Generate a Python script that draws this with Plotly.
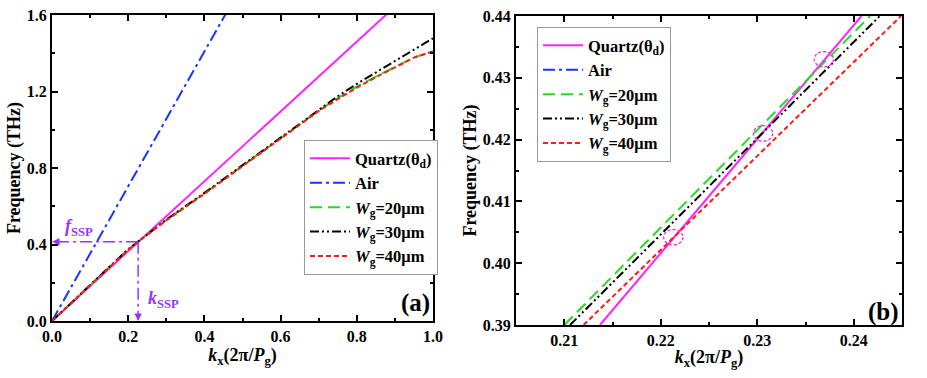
import plotly.graph_objects as go

# ---------------- data ----------------
# Panel (a)
k_quartz_a = [0.0, 0.88]
f_quartz_a = [0.0, 1.607]
k_air = [0.0, 0.46]
f_air = [0.0, 1.62]
k_ssp = [0, 0.05, 0.1, 0.15, 0.2, 0.226, 0.3, 0.4, 0.5, 0.6, 0.7, 0.75, 0.8, 0.85, 0.9, 0.95, 1.0]
f_wg20 = [0, 0.094, 0.188, 0.282, 0.374, 0.415, 0.528, 0.667, 0.812, 0.958, 1.100, 1.165, 1.225, 1.278, 1.330, 1.378, 1.410]
f_wg30 = [0, 0.095, 0.190, 0.284, 0.376, 0.415, 0.530, 0.670, 0.815, 0.962, 1.105, 1.175, 1.240, 1.300, 1.360, 1.420, 1.478]
f_wg40 = [0, 0.093, 0.187, 0.281, 0.372, 0.415, 0.526, 0.665, 0.810, 0.955, 1.098, 1.160, 1.220, 1.275, 1.327, 1.377, 1.410]
k_ssp_point = 0.226
f_ssp_point = 0.415

# Panel (b)
k_quartz_b = [0.2137, 0.2408]
f_quartz_b = [0.39, 0.44]
k_wg20_b = [0.2100, 0.2417]
k_wg30_b = [0.2106, 0.2427]
k_wg40_b = [0.2120, 0.2449]
f_b = [0.39, 0.44]
circle_k = [0.2213, 0.2306, 0.2369]
circle_f = [0.4042, 0.4210, 0.4330]

names = ["Quartz(θ<sub>d</sub>)", "Air", "<i>W</i><sub>g</sub>=20μm",
         "<i>W</i><sub>g</sub>=30μm", "<i>W</i><sub>g</sub>=40μm"]

# ---------------- styles ----------------
FONT = "Liberation Serif"
C_Q, C_AIR, C_20, C_30, C_40 = "#ff22ff", "#1a33ff", "#22dd22", "#000000", "#ff1a1a"
PURPLE = "#9933ff"
D_AIR = "12px,4px,3px,4px"
D_20 = "12px,6px"
D_30 = "9px,3px,2px,3px,2px,3px"
D_40 = "5px,3px"
LW = 2
W, H = 927, 378


def px(xp):
    return xp / W


def py(yp):
    return 1 - yp / H


fig = go.Figure()


def add_set(xa, ya, legend, kq, fq, k20, f20, k30, f30, k40, f40):
    fig.add_trace(go.Scatter(x=kq, y=fq, mode="lines", name=names[0], xaxis=xa, yaxis=ya, legend=legend,
                             line=dict(color=C_Q, width=LW)))
    fig.add_trace(go.Scatter(x=k_air, y=f_air, mode="lines", name=names[1], xaxis=xa, yaxis=ya, legend=legend,
                             line=dict(color=C_AIR, width=LW, dash=D_AIR)))
    fig.add_trace(go.Scatter(x=k20, y=f20, mode="lines", name=names[2], xaxis=xa, yaxis=ya, legend=legend,
                             line=dict(color=C_20, width=LW, dash=D_20)))
    fig.add_trace(go.Scatter(x=k30, y=f30, mode="lines", name=names[3], xaxis=xa, yaxis=ya, legend=legend,
                             line=dict(color=C_30, width=LW, dash=D_30)))
    fig.add_trace(go.Scatter(x=k40, y=f40, mode="lines", name=names[4], xaxis=xa, yaxis=ya, legend=legend,
                             line=dict(color=C_40, width=LW, dash=D_40)))


add_set("x", "y", "legend", k_quartz_a, f_quartz_a, k_ssp, f_wg20, k_ssp, f_wg30, k_ssp, f_wg40)
add_set("x2", "y2", "legend2", k_quartz_b, f_quartz_b, k_wg20_b, f_b, k_wg30_b, f_b, k_wg40_b, f_b)

# f_SSP / k_SSP guide lines
fig.add_trace(go.Scatter(x=[k_ssp_point, 0.004], y=[f_ssp_point, f_ssp_point], mode="lines", showlegend=False,
                         xaxis="x", yaxis="y", line=dict(color=PURPLE, width=1.5, dash=D_AIR)))
fig.add_trace(go.Scatter(x=[k_ssp_point, k_ssp_point], y=[f_ssp_point, 0.006], mode="lines", showlegend=False,
                         xaxis="x", yaxis="y", line=dict(color=PURPLE, width=1.5, dash=D_AIR)))
fig.add_annotation(x=0.0, y=f_ssp_point, ax=0.02, ay=f_ssp_point, xref="x", yref="y", axref="x", ayref="y",
                   text="", showarrow=True, arrowhead=2, arrowsize=1, arrowwidth=1.5, arrowcolor=PURPLE)
fig.add_annotation(x=k_ssp_point, y=0.0, ax=k_ssp_point, ay=0.04, xref="x", yref="y", axref="x", ayref="y",
                   text="", showarrow=True, arrowhead=2, arrowsize=1, arrowwidth=1.5, arrowcolor=PURPLE)
fig.add_annotation(x=0.028, y=f_ssp_point + 0.005, xref="x", yref="y", xanchor="left", yanchor="bottom",
                   text="<i>f</i><sub>SSP</sub>", showarrow=False,
                   font=dict(family=FONT, size=18, color=PURPLE, weight="bold"))
fig.add_annotation(x=k_ssp_point + 0.022, y=0.11, xref="x", yref="y", xanchor="left", yanchor="middle",
                   text="<i>k</i><sub>SSP</sub>", showarrow=False,
                   font=dict(family=FONT, size=18, color=PURPLE, weight="bold"))

# circles in panel (b)
for ck, cf in zip(circle_k, circle_f):
    fig.add_shape(type="circle", xref="x2", yref="y2", x0=ck - 0.001, x1=ck + 0.001,
                  y0=cf - 0.00125, y1=cf + 0.00125, line=dict(color=C_Q, width=1.3, dash="3px,2px"))

# panel labels
fig.add_annotation(x=0.953, y=0.059, xref="x domain", yref="y domain", xanchor="center", yanchor="middle",
                   text="(a)", showarrow=False, font=dict(family=FONT, size=25, color="black", weight="bold"))
fig.add_annotation(x=0.951, y=0.042, xref="x2 domain", yref="y2 domain", xanchor="center", yanchor="middle",
                   text="(b)", showarrow=False, font=dict(family=FONT, size=25, color="black", weight="bold"))

tickfont = dict(family=FONT, size=16, color="black", weight="bold")
titlefont = dict(family=FONT, size=18, color="black", weight="bold")
legfont = dict(family=FONT, size=16.5, color="black", weight="bold")
xtitle = "<i>k</i><sub>x</sub>(2π/<i>P</i><sub>g</sub>)"


def axis(domain, rng, dtick, minor_dt, fmt, title, standoff):
    return dict(domain=domain, range=rng, dtick=dtick, tick0=0, tickformat=fmt,
                showline=True, linewidth=2, linecolor="black", mirror="allticks",
                ticks="inside", ticklen=6, tickwidth=2, tickcolor="black",
                minor=dict(ticks="inside", ticklen=3, tickwidth=2, tickcolor="black", dtick=minor_dt, tick0=0),
                showgrid=False, zeroline=False, tickfont=tickfont, automargin=False,
                ticklabeloverflow="allow",
                title=dict(text=title, font=titlefont, standoff=standoff))


fig.update_layout(
    width=W, height=H,
    margin=dict(l=0, r=0, t=0, b=0),
    paper_bgcolor="white", plot_bgcolor="white",
    xaxis=dict(axis([px(52), px(433)], [0, 1.0], 0.2, 0.1, ".1f", xtitle, 2), anchor="y"),
    yaxis=dict(axis([py(321), py(15)], [0, 1.6], 0.4, 0.2, ".1f", "Frequency (THz)", 1), anchor="x"),
    xaxis2=dict(axis([px(516), px(902)], [0.205, 0.245], 0.01, 0.005, ".2f", xtitle, 2), anchor="y2"),
    yaxis2=dict(axis([py(325), py(16)], [0.39, 0.44], 0.01, 0.005, ".2f", "Frequency (THz)", 1), anchor="x2"),
    legend=dict(x=px(304), y=py(140), xanchor="left", yanchor="top", bgcolor="white",
                bordercolor="#999999", borderwidth=1, font=legfont, tracegroupgap=0, itemwidth=40),
    legend2=dict(x=px(537), y=py(27), xanchor="left", yanchor="top", bgcolor="white",
                 bordercolor="#999999", borderwidth=1, font=legfont, tracegroupgap=0, itemwidth=40),
)

fig.write_html("out.html", config={"displayModeBar": False},
               post_script="document.body.style.margin='0px';")
